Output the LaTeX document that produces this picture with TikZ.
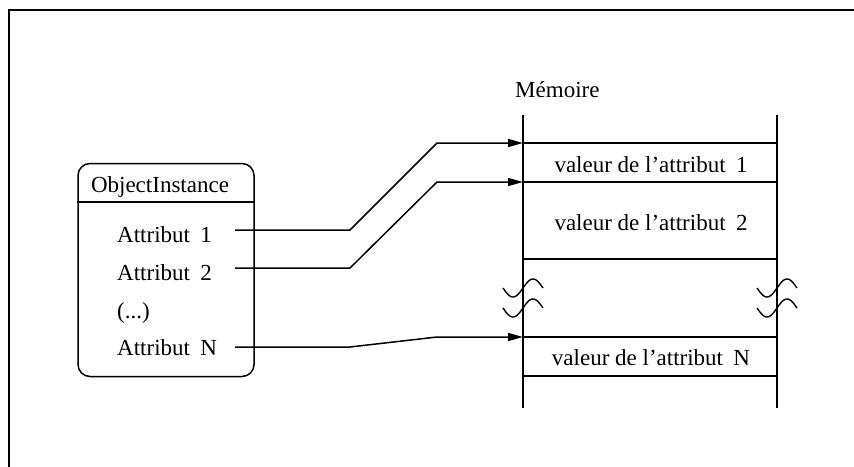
\documentclass[tikz,border=0pt]{standalone}
\usepackage{fontspec}
\setmainfont{Liberation Serif}
\usetikzlibrary{arrows.meta}
\begin{document}
\begin{tikzpicture}[x=1pt,y=-1pt,
  ln/.style={line width=1.5pt, line join=round},
  arr/.style={ln, -{Triangle[length=15pt,width=8pt]}},
  txt/.style={inner sep=0pt, font=\fontsize{23}{26}\selectfont, anchor=base west},
  ctxt/.style={inner sep=0pt, font=\fontsize{23}{26}\selectfont, anchor=base},
  brk/.style={line width=1.4pt}]
\useasboundingbox (0,0) rectangle (854,466);
% frame (top and left only)
\draw[line width=1.8pt] (9,470) -- (9,10) -- (860,10);

% object box
\node[draw, line width=1.5pt, rounded corners=12pt, minimum width=176pt, minimum height=213pt, inner sep=0pt] (obj) at (166,270) {};
\coordinate (divL) at (obj.west |- 0,202);
\coordinate (divR) at (obj.east |- 0,202);
\draw[ln] (divL) -- (divR);
\node[ctxt] (title) at (160,192) {ObjectInstance};
\node[txt] (a1) at (117,242) {Attribut\hspace{0.45em}1};
\node[txt] (a2) at (117,280) {Attribut\hspace{0.45em}2};
\node[txt] (ad) at (117,318) {(...)};
\node[txt] (aN) at (117,355) {Attribut\hspace{0.45em}N};

% memory
\node[txt] (mem) at (515,97) {Mémoire};
\coordinate (lt) at (523,115);
\coordinate (lb) at (523,408);
\coordinate (rt) at (777,115);
\coordinate (rb) at (777,408);
\draw[ln] (lt) -- (lb);
\draw[ln] (rt) -- (rb);
\foreach \y/\n in {143/h1,182/h2,259/h3,337/h4,376/h5}{
  \coordinate (\n l) at (523,\y);
  \coordinate (\n r) at (777,\y);
  \draw[ln] (\n l) -- (\n r);
}
\node[ctxt] (v1) at (651,172) {valeur de l'attribut\hspace{0.45em}1};
\node[ctxt] (v2) at (651,230) {valeur de l'attribut\hspace{0.45em}2};
\node[ctxt] (vN) at (651,365) {valeur de l'attribut\hspace{0.45em}N};

% breaks
\foreach \cx in {523,777}{
  \foreach \cy in {288,308}{
    \draw[brk] plot[domain=-20:20, samples=40, smooth] ({\cx+\x},{\cy-9*sin(9*\x)});
  }
}

% connectors
\coordinate (s1) at (235,230);
\coordinate (s2) at (235,268);
\coordinate (sN) at (235,347);
\draw[arr] (s1) -- (350,230) -- (437,143) -- (h1l);
\draw[arr] (s2) -- (350,268) -- (437,182) -- (h2l);
\draw[arr] (sN) -- (350,347) -- (437,337) -- (h4l);
\end{tikzpicture}
\end{document}
